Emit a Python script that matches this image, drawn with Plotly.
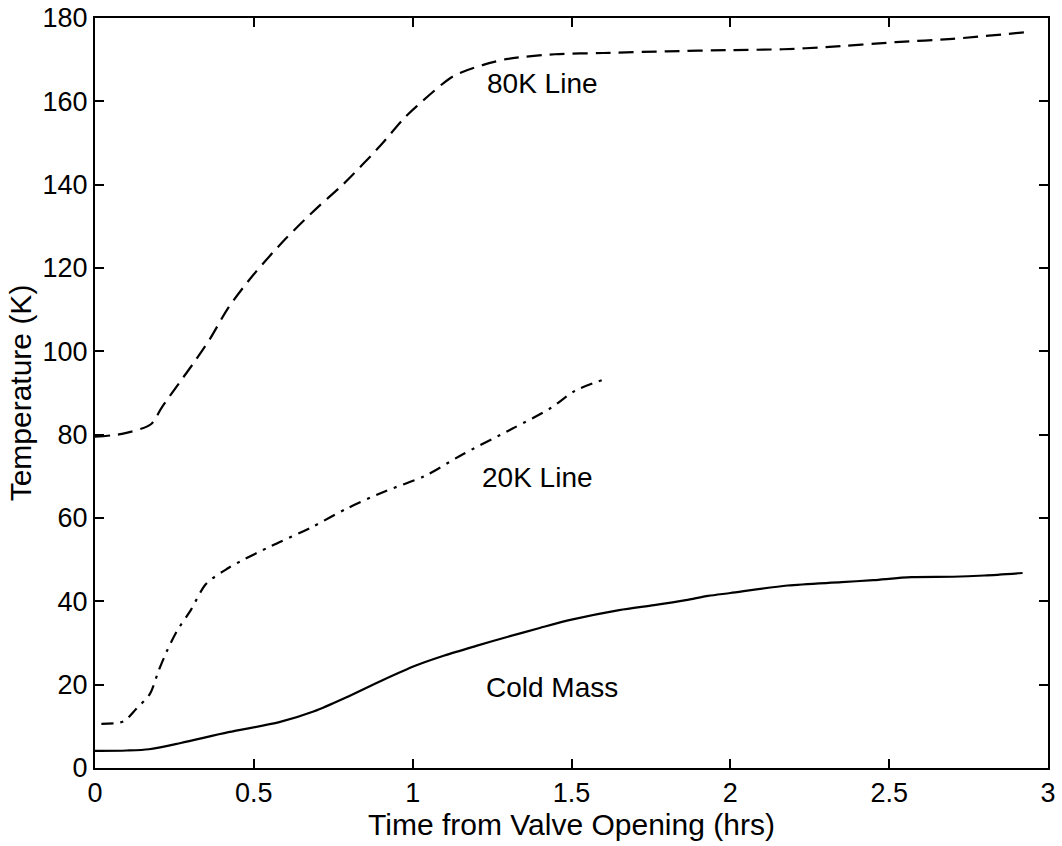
import plotly.graph_objects as go

# Cold Mass (solid)
cm_x = [0.0, 0.1, 0.17, 0.27, 0.42, 0.58, 0.69, 0.79, 0.9, 1.01, 1.1, 1.2, 1.3, 1.4, 1.5, 1.65, 1.76, 1.86, 1.93, 2.0, 2.18, 2.35, 2.45, 2.57, 2.7, 2.8, 2.92]
cm_y = [4.1, 4.2, 4.5, 6.0, 8.6, 11.0, 13.6, 16.9, 20.9, 24.6, 27.0, 29.3, 31.5, 33.6, 35.6, 37.9, 39.1, 40.3, 41.3, 42.0, 43.8, 44.6, 45.1, 45.8, 45.9, 46.2, 46.8]

# 20K Line (dash-dot)
l20_x = [0.02, 0.09, 0.13, 0.173, 0.2, 0.226, 0.258, 0.3, 0.35, 0.42, 0.46, 0.555, 0.677, 0.796, 0.916, 1.036, 1.158, 1.313, 1.435, 1.51, 1.6]
l20_y = [10.6, 11.2, 14.2, 17.8, 23.3, 28.0, 32.9, 37.7, 44.2, 48.0, 49.7, 53.3, 57.6, 62.4, 66.5, 70.0, 75.3, 81.4, 86.4, 90.5, 93.2]

# 80K Line (dashed)
l80_x = [0.0, 0.085, 0.176, 0.21, 0.266, 0.315, 0.362, 0.42, 0.5, 0.6, 0.7, 0.78, 0.9, 0.97, 1.014, 1.127, 1.22, 1.3, 1.448, 1.6, 1.8, 2.0, 2.165, 2.3, 2.52, 2.7, 2.93]
l80_y = [79.5, 80.2, 82.5, 86.5, 92.5, 97.7, 103.0, 110.5, 118.5, 127.0, 134.5, 140.0, 149.5, 155.7, 158.9, 166.0, 168.7, 170.2, 171.3, 171.6, 172.0, 172.3, 172.5, 173.0, 174.2, 175.0, 176.6]

x_ticks = [0, 0.5, 1, 1.5, 2, 2.5, 3]
x_tick_text = ["0", "0.5", "1", "1.5", "2", "2.5", "3"]
y_ticks = [0, 20, 40, 60, 80, 100, 120, 140, 160, 180]

labels = ["80K Line", "20K Line", "Cold Mass"]
label_x = [1.41, 1.394, 1.44]
label_y = [164.4, 69.8, 19.4]

FONT = "Liberation Sans, Arial, Helvetica, sans-serif"

fig = go.Figure()
fig.add_trace(go.Scatter(x=cm_x, y=cm_y, mode="lines", line=dict(color="black", width=2.2, shape="spline", smoothing=0.8), name="Cold Mass"))
fig.add_trace(go.Scatter(x=l20_x, y=l20_y, mode="lines", line=dict(color="black", width=2.2, dash="12px,7px,3px,7px", shape="spline", smoothing=0.8), name="20K Line"))
fig.add_trace(go.Scatter(x=l80_x, y=l80_y, mode="lines", line=dict(color="black", width=2.2, dash="15px,8px", shape="spline", smoothing=0.8), name="80K Line"))

for t, xx, yy in zip(labels, label_x, label_y):
    fig.add_annotation(x=xx, y=yy, text=t, showarrow=False, font=dict(family=FONT, size=28, color="black"))

fig.update_layout(
    width=1062, height=846,
    margin=dict(l=95, r=14, t=18, b=78),
    paper_bgcolor="white", plot_bgcolor="white",
    showlegend=False,
    font=dict(family=FONT, color="black"),
)
fig.update_xaxes(
    range=[0, 3], tickvals=x_ticks, ticktext=x_tick_text, automargin=False,
    showgrid=False, zeroline=False,
    showline=True, linecolor="black", linewidth=2, mirror="allticks",
    ticks="inside", ticklen=9, tickwidth=2, tickcolor="black",
    tickfont=dict(size=27, family=FONT),
    title=dict(text="Time from Valve Opening (hrs)", font=dict(size=30, family=FONT), standoff=0),
)
fig.update_yaxes(
    range=[0, 180], tickvals=y_ticks, automargin=False,
    showgrid=False, zeroline=False,
    showline=True, linecolor="black", linewidth=2, mirror="allticks",
    ticks="inside", ticklen=9, tickwidth=2, tickcolor="black",
    tickfont=dict(size=27, family=FONT),
    title=dict(text="Temperature (K)", font=dict(size=30, family=FONT), standoff=2),
)

fig.write_html("out.html")
